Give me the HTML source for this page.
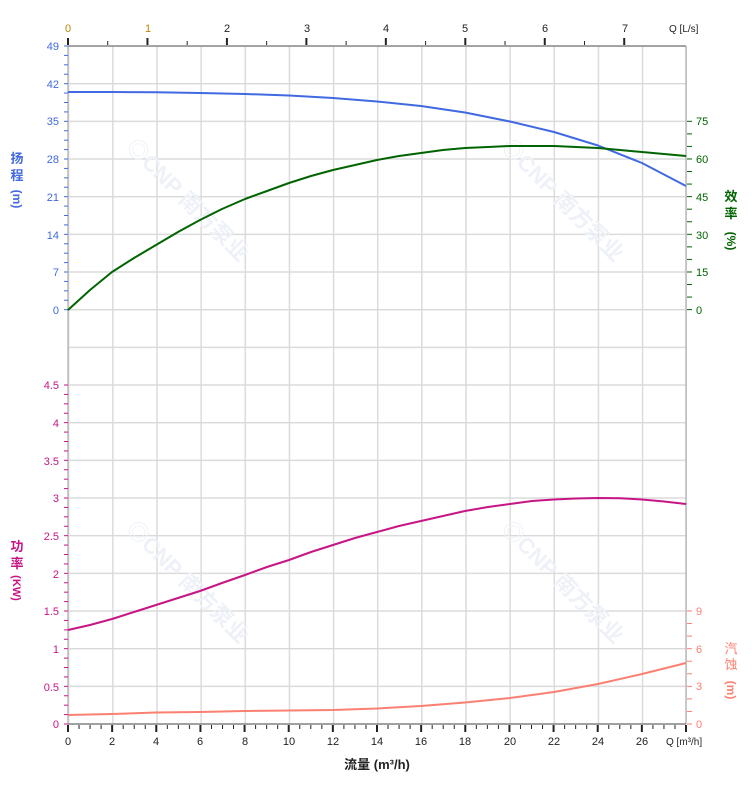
<!DOCTYPE html>
<html><head><meta charset="utf-8"><style>
html,body{margin:0;padding:0;background:#fff;}
svg{display:block;font-family:"Liberation Sans","Noto Sans CJK SC",sans-serif;}
</style></head><body>
<svg width="752" height="797" viewBox="0 0 752 797" xmlns="http://www.w3.org/2000/svg">
<defs>
<pattern id="gv" patternUnits="userSpaceOnUse" x="68" y="0" width="44.143" height="10"><rect x="0" y="0" width="1.4" height="10" fill="#d9d9d9"/></pattern>
<pattern id="gh" patternUnits="userSpaceOnUse" x="0" y="45.3" width="10" height="37.667"><rect x="0" y="0" width="10" height="1.4" fill="#d9d9d9"/></pattern>
<pattern id="tb" patternUnits="userSpaceOnUse" x="67.5" y="0" width="11.036" height="10"><rect x="0" y="0" width="1" height="10" fill="#222"/></pattern>
<pattern id="tbM" patternUnits="userSpaceOnUse" x="67" y="0" width="44.143" height="10"><rect x="0" y="0" width="2" height="10" fill="#222"/></pattern>
<pattern id="tt" patternUnits="userSpaceOnUse" x="67.5" y="0" width="39.73" height="10"><rect x="0" y="0" width="1" height="10" fill="#222"/></pattern>
<pattern id="ttM" patternUnits="userSpaceOnUse" x="67" y="0" width="79.46" height="10"><rect x="0" y="0" width="2" height="10" fill="#222"/></pattern>
<pattern id="tl" patternUnits="userSpaceOnUse" x="0" y="45.5" width="10" height="9.417"><rect x="0" y="0" width="10" height="1" fill="#4169e1"/></pattern>
<pattern id="tlp" patternUnits="userSpaceOnUse" x="0" y="384.5" width="10" height="9.417"><rect x="0" y="0" width="10" height="1" fill="#c71585"/></pattern>
<pattern id="te" patternUnits="userSpaceOnUse" x="0" y="120.8" width="10" height="12.556"><rect x="0" y="0" width="10" height="1" fill="#006400"/></pattern>
<pattern id="tn" patternUnits="userSpaceOnUse" x="0" y="610.5" width="10" height="12.556"><rect x="0" y="0" width="10" height="1" fill="#fa8072"/></pattern>
</defs>
<rect x="68" y="46" width="619" height="678" fill="url(#gv)"/>
<rect x="68" y="46" width="618" height="679" fill="url(#gh)"/>
<g fill="#eef2f8" font-size="22" font-weight="bold">
<text transform="translate(125,148) rotate(45)">◎CNP 南方泵业</text>
<text transform="translate(500,148) rotate(45)">◎CNP 南方泵业</text>
<text transform="translate(125,530) rotate(45)">◎CNP 南方泵业</text>
<text transform="translate(500,530) rotate(45)">◎CNP 南方泵业</text>
</g>
<line x1="68" y1="46" x2="68" y2="724" stroke="#bbb" stroke-width="1.5"/>
<line x1="686" y1="46" x2="686" y2="724" stroke="#bbb" stroke-width="1.5"/>
<line x1="68" y1="46" x2="686" y2="46" stroke="#888" stroke-width="1.5"/>
<line x1="68" y1="724" x2="686" y2="724" stroke="#888" stroke-width="1.5"/>
<rect x="67" y="725" width="620" height="4" fill="url(#tb)"/>
<rect x="66" y="725" width="622" height="7" fill="url(#tbM)"/>
<rect x="67" y="41" width="560" height="4" fill="url(#tt)"/>
<rect x="66" y="38" width="562" height="7" fill="url(#ttM)"/>
<rect x="64" y="45" width="4" height="266" fill="url(#tl)"/>
<rect x="64" y="384" width="4" height="341" fill="url(#tlp)"/>
<rect x="687" y="120" width="5" height="191" fill="url(#te)"/>
<rect x="687" y="610" width="5" height="115" fill="url(#tn)"/>
<g fill="#4169e1" font-size="11" text-anchor="end">
<text x="59" y="50">49</text><text x="59" y="88">42</text><text x="59" y="125">35</text><text x="59" y="163">28</text><text x="59" y="201">21</text><text x="59" y="239">14</text><text x="59" y="276">7</text><text x="59" y="314">0</text>
</g>
<g fill="#c71585" font-size="11" text-anchor="end">
<text x="59" y="389">4.5</text><text x="59" y="427">4</text><text x="59" y="465">3.5</text><text x="59" y="502">3</text><text x="59" y="540">2.5</text><text x="59" y="578">2</text><text x="59" y="615">1.5</text><text x="59" y="653">1</text><text x="59" y="691">0.5</text><text x="59" y="728">0</text>
</g>
<g fill="#006400" font-size="11">
<text x="696" y="125">75</text><text x="696" y="163">60</text><text x="696" y="201">45</text><text x="696" y="239">30</text><text x="696" y="276">15</text><text x="696" y="314">0</text>
</g>
<g fill="#fa8072" font-size="11">
<text x="696" y="615">9</text><text x="696" y="653">6</text><text x="696" y="690">3</text><text x="696" y="728">0</text>
</g>
<g fill="#222" font-size="11" text-anchor="middle">
<text x="68" y="745">0</text><text x="112" y="745">2</text><text x="156" y="745">4</text><text x="200" y="745">6</text><text x="245" y="745">8</text><text x="289" y="745">10</text><text x="333" y="745">12</text><text x="377" y="745">14</text><text x="421" y="745">16</text><text x="465" y="745">18</text><text x="510" y="745">20</text><text x="554" y="745">22</text><text x="598" y="745">24</text><text x="642" y="745">26</text>
</g>
<text x="666" y="745" font-size="10" fill="#222">Q [m³/h]</text>
<g fill="#222" font-size="11" text-anchor="middle">
<text x="68" y="32" fill="#b8860b">0</text><text x="148" y="32" fill="#b8860b">1</text><text x="227" y="32">2</text><text x="307" y="32">3</text><text x="386" y="32">4</text><text x="465" y="32">5</text><text x="545" y="32">6</text><text x="625" y="32">7</text>
</g>
<text x="669" y="32" font-size="10" fill="#222">Q [L/s]</text>
<text x="377" y="769" font-size="13" font-weight="bold" fill="#222" text-anchor="middle">流量 (m³/h)</text>
<g font-size="13" font-weight="bold" text-anchor="middle">
<text x="17" y="163" fill="#4169e1">扬</text><text x="17" y="180" fill="#4169e1">程</text>
<text transform="translate(13,199) rotate(90)" fill="#4169e1" font-size="12">(m)</text>
<text x="17" y="551" fill="#c71585">功</text><text x="17" y="568" fill="#c71585">率</text>
<text transform="translate(13,588) rotate(90)" fill="#c71585" font-size="11">(KW)</text>
<text x="731" y="201" fill="#006400">效</text><text x="731" y="218" fill="#006400">率</text>
<text transform="translate(727,241) rotate(90)" fill="#006400" font-size="12">(%)</text>
<text x="731" y="653" fill="#fa8072" font-weight="normal">汽</text><text x="731" y="669" fill="#fa8072" font-weight="normal">蚀</text>
<text transform="translate(727,690) rotate(90)" fill="#fa8072" font-size="12">(m)</text>
</g>
<g fill="none" stroke-width="2" stroke-linejoin="round">
<polyline stroke="#4169e1" points="68,92 112,92 156,92.2 200,93 245,94 289,95.5 333,98 377,101.5 421,106 465,112.5 510,121.5 554,132 598,145.5 642,163 686,186"/>
<polyline stroke="#006400" points="68,310 90,290 112,272 134,258 156,245 178,232 200,220 222,209 245,199 267,191 289,183 311,176 333,170 355,165 377,160 399,156 421,153 443,150 465,148 488,147 510,146 532,146 554,146 576,147 598,148 620,150 642,152 664,154 686,156"/>
<polyline stroke="#c71585" points="68,630 90,625 112,619 134,612 156,605 178,598 200,591 222,583 245,575 267,567 289,560 311,552 333,545 355,538 377,532 399,526 421,521 443,516 465,511 488,507 510,504 532,501 554,499.5 576,498.5 598,498 620,498.3 642,499.5 664,501.5 686,504"/>
<polyline stroke="#fa8072" points="68,715 112,714 156,712.5 200,712 245,711 289,710.5 333,710 377,708.5 421,706 465,702.5 510,698 554,692 598,684 642,674 686,663"/>
</g>
</svg>
</body></html>
